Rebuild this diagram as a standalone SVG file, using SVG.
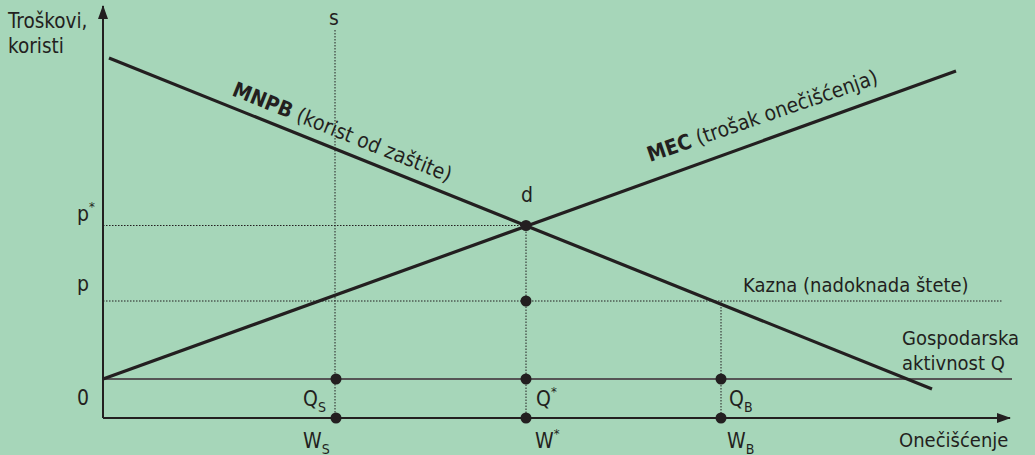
<svg xmlns="http://www.w3.org/2000/svg" width="1035" height="455" viewBox="0 0 1035 455">
<defs>
<style>
.t{font-family:"DejaVu Sans Condensed","Liberation Sans",Arial,sans-serif;font-stretch:condensed;font-size:20px;fill:#231f20}
.l{font-size:21px}
.b{font-weight:bold}
.sub{font-size:14px}
.sup{font-size:13px}
.dot{stroke:#231f20;stroke-width:1;stroke-dasharray:1.5 1.5;fill:none}
.curve{stroke:#231f20;stroke-width:3.2;fill:none}
.axis{stroke:#231f20;stroke-width:2;fill:none}
.pt{fill:#231f20}
</style>
<marker id="ah" markerWidth="14" markerHeight="10" refX="13" refY="5" orient="auto" markerUnits="userSpaceOnUse">
<path d="M0,0 L14,5 L0,10 Z" fill="#231f20"/>
</marker>
</defs>
<rect width="1035" height="455" fill="#a6d6b9"/>
<g id="connectors">
<line class="dot" x1="335" y1="30" x2="335" y2="418"/>
<line class="dot" x1="103" y1="225.5" x2="526" y2="225.5"/>
<line class="dot" x1="103" y1="301" x2="1003" y2="301"/>
<line class="dot" x1="526" y1="225.5" x2="526" y2="418"/>
<line class="dot" x1="721" y1="301" x2="721" y2="418"/>
<line x1="103" y1="379" x2="1012" y2="379" stroke="#555" stroke-width="2"/>
<line class="axis" x1="103" y1="418" x2="103" y2="6" marker-end="url(#ah)"/>
<line class="axis" x1="103" y1="418" x2="1010" y2="418" marker-end="url(#ah)"/>
<line id="mnpb" class="curve" x1="109" y1="58" x2="932" y2="389"/>
<line id="mec" class="curve" x1="103" y1="379" x2="956" y2="71"/>
</g>
<g id="points">
<circle class="pt" cx="526" cy="225.5" r="5.5"/>
<circle class="pt" cx="526" cy="301" r="5.5"/>
<circle class="pt" cx="336" cy="379" r="5.5"/>
<circle class="pt" cx="526" cy="379" r="5.5"/>
<circle class="pt" cx="721" cy="379" r="5.5"/>
<circle class="pt" cx="336" cy="418" r="5.5"/>
<circle class="pt" cx="526" cy="418" r="5.5"/>
<circle class="pt" cx="721" cy="418" r="5.5"/>
</g>
<g id="labels">
<text class="t" x="8" y="28" style="font-size:20.5px">Troškovi,</text>
<text class="t" x="8" y="53" style="font-size:20.5px">koristi</text>
<text class="t l" x="329" y="25">s</text>
<text class="t l" transform="translate(231,95) rotate(21.9)"><tspan class="b">MNPB</tspan> (korist od zaštite)</text>
<text class="t l" transform="translate(650,162) rotate(-19.0)"><tspan class="b">MEC</tspan> (trošak onečišćenja)</text>
<text class="t l" x="521" y="202">d</text>
<text class="t l" x="77" y="221">p<tspan class="sup" dy="-10">*</tspan></text>
<text class="t l" x="77" y="291">p</text>
<text class="t l" x="77" y="405">0</text>
<text class="t l" x="303" y="406">Q<tspan class="sub" dy="6">S</tspan></text>
<text class="t l" x="536" y="406">Q<tspan class="sup" dy="-10">*</tspan></text>
<text class="t l" x="729" y="406">Q<tspan class="sub" dy="6">B</tspan></text>
<text class="t l" x="303" y="448">W<tspan class="sub" dy="6">S</tspan></text>
<text class="t l" x="535" y="448">W<tspan class="sup" dy="-10">*</tspan></text>
<text class="t l" x="727" y="448">W<tspan class="sub" dy="6">B</tspan></text>
<text class="t" x="743" y="292">Kazna (nadoknada štete)</text>
<text class="t" x="902" y="345">Gospodarska</text>
<text class="t" x="902" y="370">aktivnost Q</text>
<text class="t" x="899" y="447">Onečišćenje</text>
</g>
</svg>
